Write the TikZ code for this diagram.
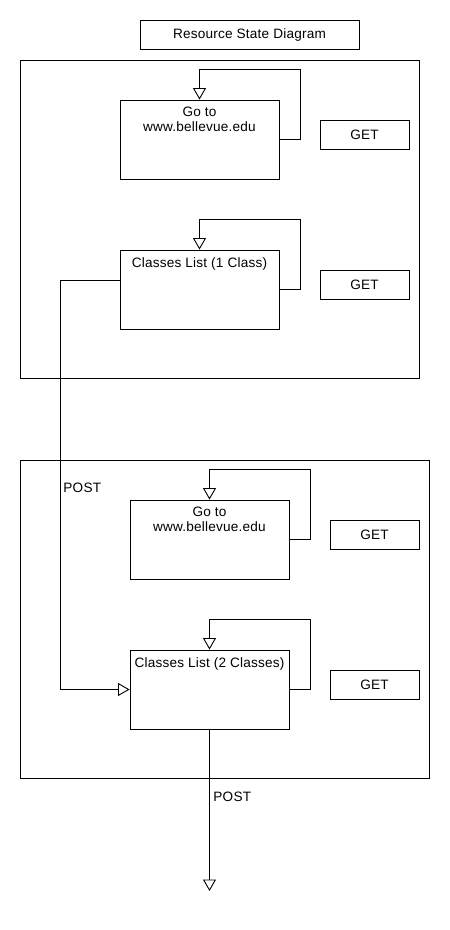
\documentclass[tikz,border=0pt]{standalone}
\usepackage{fontspec}
\setmainfont[LetterSpace=1.5]{Liberation Sans}
\usetikzlibrary{arrows.meta,positioning}
\begin{document}
\begin{tikzpicture}[x=1pt,y=-1pt,line width=0.9pt,
  every node/.style={font=\fontsize{13.6}{15}\selectfont, inner sep=0pt},
  state/.style={draw, minimum width=159pt, minimum height=79pt},
  getbox/.style={draw, minimum width=89pt, minimum height=29pt},
  arr/.style={-{Triangle[open,length=11.5pt,width=13pt]}},
  lbl/.style={anchor=north, align=center}]
\useasboundingbox (0,0) rectangle (450,930);
% title
\node[draw, minimum width=219pt, minimum height=29pt] (title) at (249.5,34.5) {Resource State Diagram};
% containers
\draw (20,60) rectangle (419,378);
\draw (20,460) rectangle (429,778);
% top group
\node[state] (a1) at (199.5,139.5) {};
\node[lbl] (a1t) at ([yshift=-7pt]a1.north) {Go to\\www.bellevue.edu};
\node[getbox] (g1) at (364.5,134.5) {GET};
\node[state] (a2) at (199.5,289.5) {};
\node[lbl] (a2t) at ([yshift=-8pt]a2.north) {Classes List (1 Class)};
\node[getbox] (g2) at (364.5,284.5) {GET};
% bottom group
\node[state] (b1) at (209.5,539.5) {};
\node[lbl] (b1t) at ([yshift=-7pt]b1.north) {Go to\\www.bellevue.edu};
\node[getbox] (g3) at (374.5,534.5) {GET};
\node[state] (b2) at (209.5,689.5) {};
\node[lbl] (b2t) at ([yshift=-8pt]b2.north) {Classes List (2 Classes)};
\node[getbox] (g4) at (374.5,684.5) {GET};
% self loops
\draw[arr] (a1.east) -- ++(21,0) |- ([yshift=30pt]a1.north) -- (a1.north);
\draw[arr] (a2.east) -- ++(21,0) |- ([yshift=30pt]a2.north) -- (a2.north);
\draw[arr] (b1.east) -- ++(21,0) |- ([yshift=30pt]b1.north) -- (b1.north);
\draw[arr] (b2.east) -- ++(21,0) |- ([yshift=30pt]b2.north) -- (b2.north);
% POST connectors
\coordinate (bend) at (60,280);
\draw[arr] ([yshift=9.5pt]a2.west) -- (bend) |- (b2.west);
\node[anchor=west] (post1) at (63,488) {POST};
\coordinate (endpt) at (209.5,891);
\draw[arr] (b2.south) -- (endpt);
\node[anchor=west] (post2) at (213,797) {POST};
\end{tikzpicture}
\end{document}
